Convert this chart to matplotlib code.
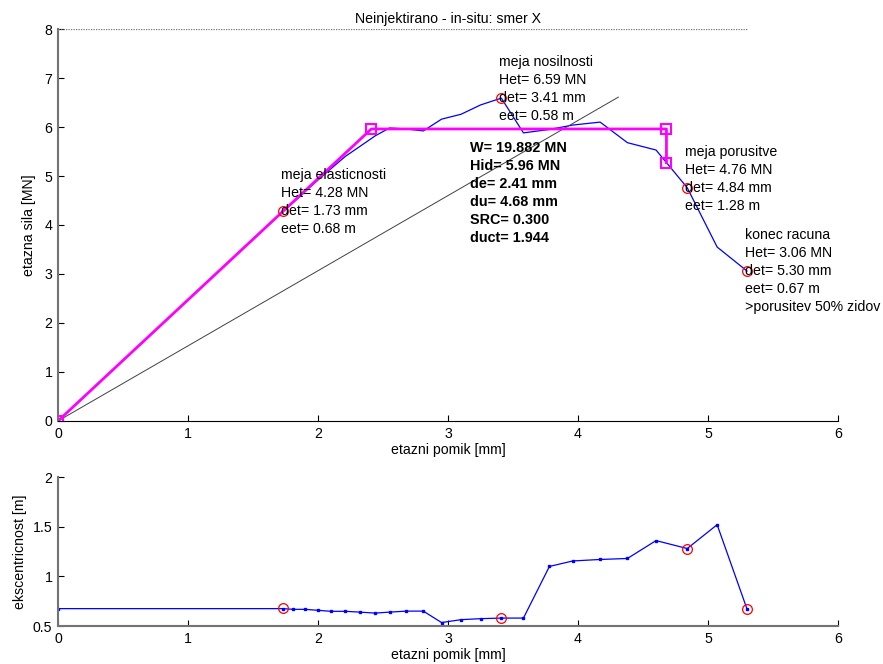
import numpy as np
import matplotlib.pyplot as plt

plt.rcParams['font.family'] = ['Liberation Sans', 'DejaVu Sans']
plt.rcParams['font.size'] = 10.2

# displacement steps [mm], storey force [MN], eccentricity [m]
d = [0, 1.73, 1.81, 1.90, 2.00, 2.10, 2.21, 2.32, 2.44, 2.55, 2.68, 2.81, 2.95,
     3.10, 3.25, 3.41, 3.58, 3.78, 3.96, 4.17, 4.38, 4.60, 4.84, 5.07, 5.30]
H = [0, 4.28, 4.46, 4.68, 4.92, 5.15, 5.40, 5.60, 5.82, 5.98, 5.96, 5.92, 6.16,
     6.26, 6.45, 6.59, 5.88, 5.95, 6.04, 6.10, 5.68, 5.53, 4.76, 3.55, 3.06]
e = [0.675, 0.675, 0.668, 0.668, 0.658, 0.648, 0.648, 0.640, 0.630, 0.640, 0.650,
     0.650, 0.535, 0.564, 0.574, 0.580, 0.580, 1.10, 1.155, 1.17, 1.18, 1.36,
     1.28, 1.52, 0.67]

# characteristic points
pt_d = [1.73, 3.41, 4.84, 5.30]
pt_H = [4.28, 6.59, 4.76, 3.06]
pt_e = [0.68, 0.58, 1.28, 0.67]
pt_name = ['meja elasticnosti', 'meja nosilnosti', 'meja porusitve', 'konec racuna']
pt_extra = ['', '', '', '>porusitev 50% zidov']

# idealized bilinear
bil_d = [0, 2.41, 4.68, 4.68]
bil_H = [0, 5.96, 5.96, 5.27]
sec_d = [0, 4.31]
sec_H = [0, 6.61]

W, Hid, de, du, SRC, duct = 19.882, 5.96, 2.41, 4.68, 0.300, 1.944

fig = plt.figure(figsize=(8.83, 6.64), dpi=100)
ax1 = fig.add_axes([0.0657, 0.366, 0.8834, 0.5903])
ax2 = fig.add_axes([0.0657, 0.0572, 0.8834, 0.2244])

ax1.plot(d, H, color='blue', lw=0.9)
ax1.plot(sec_d, sec_H, color='0.25', lw=0.7)
ax1.plot(bil_d, bil_H, color='magenta', lw=2, marker='s', ms=7, mfc='none', mew=1.5)
ax1.plot(pt_d, pt_H, 'o', color='red', ms=7, mfc='none', mew=0.9)
ax1.plot([0, d[-1]], [8, 8], color='0.45', lw=0.9, ls=(0, (1, 1)))

for x, y, name, eecc, extra in zip(pt_d, pt_H, pt_name, pt_e, pt_extra):
    txt = '%s\nHet= %.2f MN\ndet= %.2f mm\neet= %.2f m' % (name, y, x, eecc)
    if extra:
        txt += '\n' + extra
    ax1.annotate(txt, xy=(x, y), xytext=(-2, 43), textcoords='offset pixels',
                 ha='left', va='top', linespacing=1.37)

res = ('W= %.3f MN\nHid= %.2f MN\nde= %.2f mm\ndu= %.2f mm\nSRC= %.3f\nduct= %.3f'
       % (W, Hid, de, du, SRC, duct))
ax1.text(3.17, 5.72, res, fontsize=10.4, fontweight='bold', ha='left', va='top',
         linespacing=1.36)

ax1.set_xlim(0, 6)
ax1.set_ylim(0, 8)
ax1.set_xticks(range(7))
ax1.set_yticks(range(9))
ax1.set_title('Neinjektirano - in-situ: smer X', fontsize=10.2, pad=4)
ax1.set_xlabel('etazni pomik [mm]', labelpad=2)
ax1.set_ylabel('etazna sila [MN]', labelpad=6)

ax2.plot(d, e, color='blue', lw=0.9, marker='s', ms=2)
ax2.plot(pt_d, pt_e, 'o', color='red', ms=7, mfc='none', mew=0.9)
ax2.set_xlim(0, 6)
ax2.set_ylim(0.5, 2)
ax2.set_xticks(range(7))
ax2.set_yticks([0.5, 1, 1.5, 2])
ax2.set_yticklabels(['0.5', '1', '1.5', '2'])
ax2.set_xlabel('etazni pomik [mm]', labelpad=2)
ax2.set_ylabel('ekscentricnost [m]')

for ax in (ax1, ax2):
    ax.spines['top'].set_visible(False)
    ax.spines['right'].set_visible(False)
    ax.spines['left'].set_color('0.45')
    ax.spines['left'].set_linewidth(1.5)
    ax.tick_params(direction='in', length=4, width=0.8, pad=4)
ax1.spines['bottom'].set_color('black')
ax2.spines['bottom'].set_color('0.45')
ax2.spines['bottom'].set_linewidth(1.5)

fig.savefig('out.png', dpi=100)
